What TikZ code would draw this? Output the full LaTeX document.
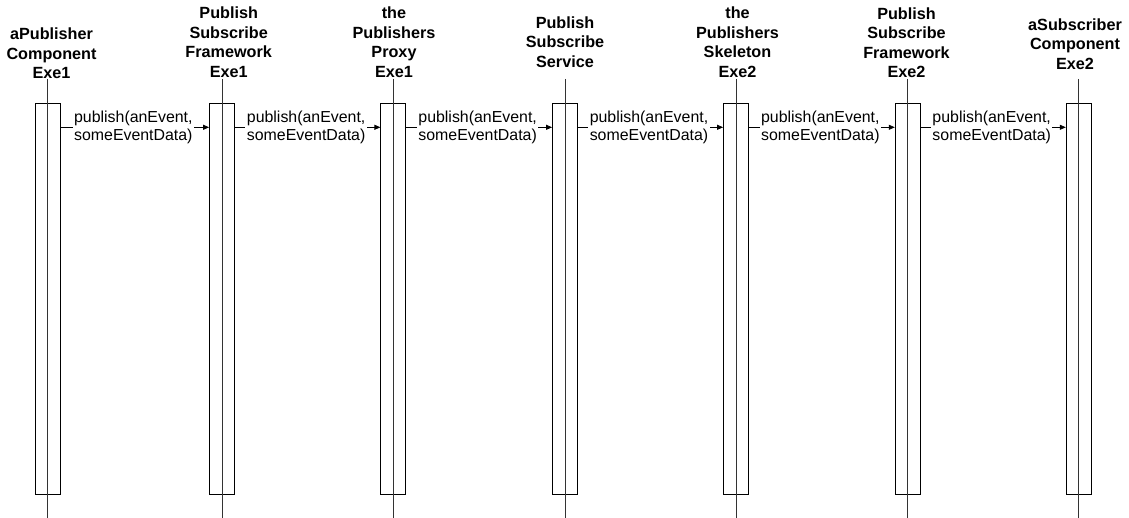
\documentclass[tikz,border=0pt]{standalone}
\usepackage{fontspec}
\setmainfont{Liberation Sans}
\usetikzlibrary{arrows.meta}
\begin{document}
\begin{tikzpicture}[x=1pt,y=-1pt,
  title/.style={font=\fontsize{16.2}{19.5}\selectfont\bfseries, align=center, inner sep=0pt},
  actbox/.style={draw=black, line width=0.8pt, minimum width=25pt, minimum height=391pt, inner sep=0pt, anchor=north},
  lifeline/.style={draw=black!80, line width=0.8pt},
  msg/.style={draw=black, line width=0.8pt, -{Triangle[length=6pt,width=5pt]}},
  msglabel/.style={font=\fontsize{15.9}{18.5}\selectfont, align=left, fill=white, inner sep=1.5pt, xshift=-1.5pt}]
\useasboundingbox (0,0) rectangle (1129,518);

% participant headings
\node[title] (h1) at (51.5,53.3) {aPublisher\\Component\\Exe1};
\node[title] (h2) at (228.7,42) {Publish\\Subscribe\\Framework\\Exe1};
\node[title] (h3) at (394,42.2) {the\\Publishers\\Proxy\\Exe1};
\node[title] (h4) at (565,42.2) {Publish\\Subscribe\\Service};
\node[title] (h5) at (737.5,42.2) {the\\Publishers\\Skeleton\\Exe2};
\node[title] (h6) at (906.5,42.5) {Publish\\Subscribe\\Framework\\Exe2};
\node[title] (h7) at (1075,44.2) {aSubscriber\\Component\\Exe2};

% activation boxes and lifelines
\foreach \i/\x in {1/47.7,2/222,3/393.3,4/565,5/736,6/907.7,7/1078.7}{
  \node[actbox] (b\i) at (\x,103.3) {};
  \coordinate (t\i) at (\x,79);
  \coordinate (e\i) at (\x,518);
  \draw[lifeline] (t\i) -- (e\i);
}

% publish messages passed along the chain
\foreach \a/\b in {1/2,2/3,3/4,4/5,5/6,6/7}{
  \draw[msg] ([yshift=-24pt]b\a.north east) -- node[msglabel] {publish(anEvent,\\someEventData)} ([yshift=-24pt]b\b.north west);
}
\end{tikzpicture}
\end{document}
